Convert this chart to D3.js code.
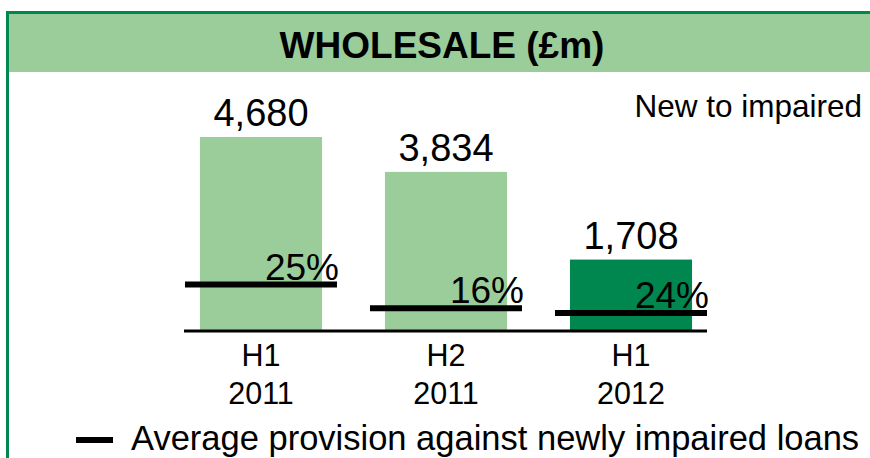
<!DOCTYPE html>
<html>
<head>
<meta charset="utf-8">
<script src="https://cdn.jsdelivr.net/npm/d3@7"></script>
<style>
  body { margin: 0; background: #fff; }
  svg { display: block; font-family: "Liberation Sans", Arial, sans-serif; }
</style>
</head>
<body>
<svg width="870" height="458"></svg>
<script>
// data
const periods = ["H1 2011", "H2 2011", "H1 2012"];
const newToImpaired = [4680, 3834, 1708];
const provisionPct = [25, 16, 24];
// where each provision marker sits, in the bar axis units (£m)
const markerLevel = [1103, 526, 412];
const barColors = ["#9bcd9b", "#9bcd9b", "#00874f"];

const width = 870, height = 458;
const svg = d3.select("svg");

// frame + header band
svg.append("rect")
    .attr("x", 9).attr("y", 14)
    .attr("width", width - 9).attr("height", 58)
    .attr("fill", "#9bcd9b");
svg.append("line")
    .attr("x1", 7.5).attr("x2", width)
    .attr("y1", 12.5).attr("y2", 12.5)
    .attr("stroke", "#00874f").attr("stroke-width", 3);
svg.append("line")
    .attr("x1", 7.5).attr("x2", 7.5)
    .attr("y1", 11).attr("y2", height)
    .attr("stroke", "#00874f").attr("stroke-width", 3);

svg.append("text")
    .attr("x", 442).attr("y", 58)
    .attr("text-anchor", "middle")
    .attr("font-size", 37).attr("font-weight", "bold")
    .text("WHOLESALE (£m)");

svg.append("text")
    .attr("x", 862).attr("y", 117)
    .attr("text-anchor", "end")
    .attr("font-size", 31.5)
    .text("New to impaired");

const x = d3.scaleBand()
    .domain(periods)
    .range([168.5, 723.5])
    .paddingInner(0.34)
    .paddingOuter(0.17);

const y = d3.scaleLinear()
    .domain([0, 4680])
    .range([330, 137]);

const rows = periods.map((p, i) => ({
  period: p, value: newToImpaired[i], pct: provisionPct[i],
  level: markerLevel[i], color: barColors[i]
}));

const g = svg.append("g");

g.selectAll("rect.bar")
  .data(rows)
  .enter()
  .append("rect")
    .attr("class", "bar")
    .attr("x", d => x(d.period))
    .attr("width", x.bandwidth())
    .attr("y", d => y(d.value))
    .attr("height", d => y(0) - y(d.value))
    .attr("fill", d => d.color);

// value labels
g.selectAll("text.val")
  .data(rows)
  .enter()
  .append("text")
    .attr("class", "val")
    .attr("x", d => x(d.period) + x.bandwidth() / 2)
    .attr("y", d => y(d.value) - 11)
    .attr("text-anchor", "middle")
    .attr("font-size", 38)
    .text(d => d3.format(",")(d.value));

// baseline
g.append("line")
    .attr("x1", 184).attr("x2", 707)
    .attr("y1", y(0) + 1).attr("y2", y(0) + 1)
    .attr("stroke", "#000").attr("stroke-width", 3);

// provision markers
const mw = 152;
g.selectAll("line.marker")
  .data(rows)
  .enter()
  .append("line")
    .attr("class", "marker")
    .attr("x1", d => x(d.period) + x.bandwidth() / 2 - mw / 2)
    .attr("x2", d => x(d.period) + x.bandwidth() / 2 + mw / 2)
    .attr("y1", d => y(d.level))
    .attr("y2", d => y(d.level))
    .attr("stroke", "#000").attr("stroke-width", 6);

g.selectAll("text.pct")
  .data(rows)
  .enter()
  .append("text")
    .attr("class", "pct")
    .attr("x", d => x(d.period) + x.bandwidth() / 2 + mw / 2 + 2)
    .attr("y", d => y(d.level) - 5)
    .attr("text-anchor", "end")
    .attr("font-size", 37)
    .text(d => d.pct + "%");

// category labels on two lines
const cats = g.selectAll("text.cat")
  .data(rows)
  .enter()
  .append("text")
    .attr("class", "cat")
    .attr("x", d => x(d.period) + x.bandwidth() / 2)
    .attr("text-anchor", "middle")
    .attr("font-size", 30.5);
cats.append("tspan")
    .attr("x", d => x(d.period) + x.bandwidth() / 2)
    .attr("y", 366)
    .text(d => d.period.split(" ")[0]);
cats.append("tspan")
    .attr("x", d => x(d.period) + x.bandwidth() / 2)
    .attr("y", 404)
    .text(d => d.period.split(" ")[1]);

// legend
svg.append("line")
    .attr("x1", 76).attr("x2", 113)
    .attr("y1", 440).attr("y2", 440)
    .attr("stroke", "#000").attr("stroke-width", 6);
svg.append("text")
    .attr("x", 131).attr("y", 450)
    .attr("font-size", 34.5)
    .text("Average provision against newly impaired loans");
</script>
</body>
</html>
